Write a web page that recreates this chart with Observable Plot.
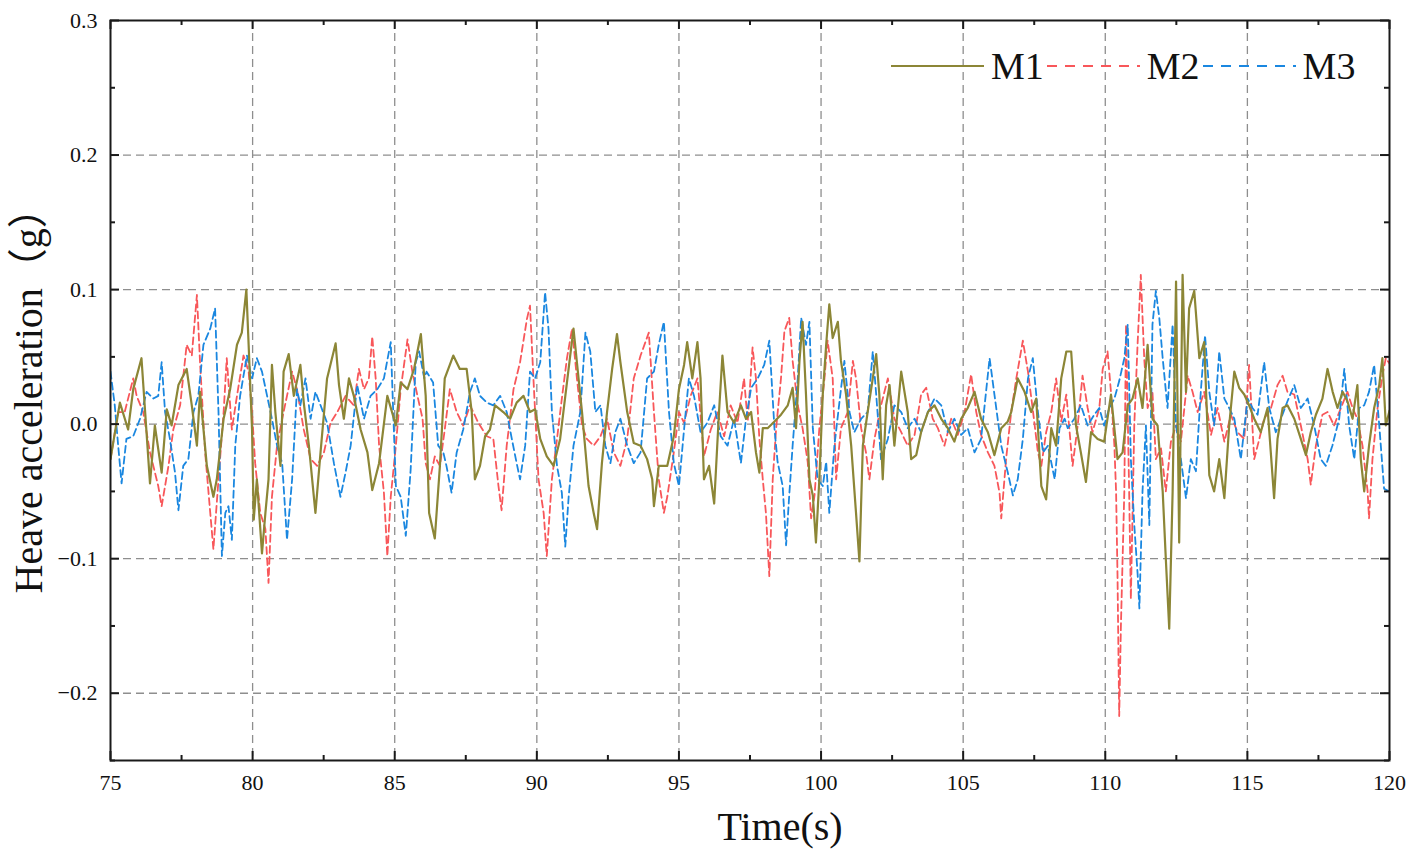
<!DOCTYPE html>
<html>
<head>
<meta charset="utf-8">
<script src="https://cdn.jsdelivr.net/npm/d3@7"></script>
<script src="https://cdn.jsdelivr.net/npm/@observablehq/plot@0.6"></script>
<style>
  html, body { margin: 0; padding: 0; background: #fff; }
  #wrap { position: relative; width: 1415px; height: 858px; }
  #legend { position: absolute; left: 891px; top: 44px; height: 44px; display: flex; align-items: center;
            font-family: 'Liberation Serif', 'Times New Roman', serif; font-size: 38px; color: #111; }
  .item { display: flex; align-items: center; }
  .item span { padding-left: 7px; padding-right: 3px; line-height: 44px; }
</style>
</head>
<body>
<div id="wrap">
  <div id="chart"></div>
  <div id="legend"></div>
</div>
<script>
// ---- axes ----
const xDomain = [75, 120];
const yDomain = [-0.25, 0.3];
const xMajor = [75, 80, 85, 90, 95, 100, 105, 110, 115, 120];
const xMinor = [77.5, 82.5, 87.5, 92.5, 97.5, 102.5, 107.5, 112.5, 117.5];
const yMajor = [-0.2, -0.1, 0.0, 0.1, 0.2, 0.3];
const yMinor = [-0.25, -0.15, -0.05, 0.05, 0.15, 0.25];
const xGrid = [80, 85, 90, 95, 100, 105, 110, 115];
const yGrid = [-0.2, -0.1, 0.0, 0.1, 0.2];

// ---- series names / colours ----
const seriesNames = ["M1", "M2", "M3"];
const seriesColors = ["#8c8636", "#f8575a", "#1a87e0"];

// ---- series: [time (s), heave acceleration (g)] ----
const m1 = [[75.00,-0.026],[75.33,0.016],[75.62,-0.004],[75.80,0.026],[76.09,0.049],[76.39,-0.044],[76.56,-0.001],[76.80,-0.036],[76.98,0.011],[77.15,-0.001],[77.39,0.029],[77.68,0.041],[77.86,0.014],[78.04,-0.016],[78.15,0.024],[78.39,-0.031],[78.62,-0.054],[78.74,-0.041],[78.98,0.004],[79.21,0.026],[79.45,0.059],[79.62,0.068],[79.78,0.100],[79.86,0.059],[79.98,-0.004],[80.04,-0.071],[80.15,-0.041],[80.33,-0.096],[80.45,-0.066],[80.56,-0.041],[80.68,0.044],[80.80,0.009],[80.98,-0.031],[81.09,0.039],[81.27,0.052],[81.45,0.021],[81.68,0.044],[81.80,0.016],[81.98,-0.016],[82.21,-0.066],[82.39,-0.021],[82.62,0.034],[82.92,0.060],[83.04,0.029],[83.21,0.004],[83.39,0.034],[83.56,0.021],[83.80,-0.004],[84.04,-0.021],[84.21,-0.049],[84.45,-0.029],[84.74,0.021],[85.04,-0.001],[85.21,0.031],[85.45,0.026],[85.68,0.041],[85.92,0.067],[86.09,0.021],[86.21,-0.066],[86.41,-0.085],[86.59,-0.031],[86.76,0.034],[87.06,0.051],[87.29,0.041],[87.53,0.041],[87.71,0.009],[87.82,-0.041],[88.00,-0.031],[88.18,-0.009],[88.35,-0.004],[88.53,0.014],[88.82,0.009],[89.06,0.004],[89.29,0.016],[89.53,0.021],[89.76,0.009],[89.94,0.011],[90.12,-0.011],[90.35,-0.024],[90.59,-0.031],[90.82,-0.011],[91.06,0.031],[91.29,0.071],[91.41,0.046],[91.59,0.009],[91.82,-0.046],[92.00,-0.066],[92.12,-0.078],[92.29,-0.029],[92.47,0.009],[92.65,0.041],[92.82,0.067],[92.94,0.046],[93.18,0.009],[93.41,-0.014],[93.65,-0.016],[93.88,-0.026],[94.06,-0.041],[94.12,-0.061],[94.29,-0.031],[94.59,-0.031],[94.82,-0.009],[95.00,0.026],[95.18,0.044],[95.29,0.061],[95.47,0.034],[95.65,0.061],[95.76,0.034],[95.88,-0.041],[96.06,-0.031],[96.24,-0.059],[96.41,0.009],[96.53,0.051],[96.71,0.009],[96.94,0.001],[97.18,0.014],[97.36,0.004],[97.54,0.009],[97.71,-0.021],[97.83,-0.036],[97.95,-0.003],[98.12,-0.003],[98.36,0.002],[98.59,0.007],[98.83,0.014],[99.00,0.027],[99.12,-0.003],[99.24,0.047],[99.35,0.076],[99.47,0.022],[99.59,-0.041],[99.71,-0.053],[99.82,-0.088],[99.94,-0.041],[100.06,0.022],[100.18,0.059],[100.29,0.089],[100.41,0.064],[100.59,0.076],[100.70,0.047],[100.88,0.022],[101.06,-0.016],[101.23,-0.066],[101.35,-0.102],[101.47,-0.016],[101.64,0.009],[101.82,0.034],[101.94,0.052],[102.05,0.022],[102.17,-0.041],[102.29,0.014],[102.41,0.029],[102.58,-0.016],[102.82,0.039],[103.05,0.009],[103.17,-0.026],[103.35,-0.023],[103.52,-0.006],[103.76,0.009],[103.99,0.014],[104.23,0.004],[104.46,-0.003],[104.69,-0.013],[104.93,0.004],[105.16,0.012],[105.40,0.024],[105.63,0.004],[105.87,-0.006],[106.10,-0.023],[106.34,-0.003],[106.57,0.002],[106.69,0.009],[106.92,0.034],[107.16,0.024],[107.39,0.009],[107.57,0.019],[107.75,-0.046],[107.92,-0.056],[108.10,-0.003],[108.27,-0.016],[108.45,0.034],[108.63,0.054],[108.80,0.054],[108.97,-0.001],[109.14,-0.021],[109.32,-0.043],[109.50,-0.006],[109.73,-0.011],[109.96,-0.013],[110.20,0.022],[110.43,-0.026],[110.61,-0.021],[110.79,0.014],[110.96,0.019],[111.14,0.034],[111.31,0.012],[111.49,0.059],[111.66,0.004],[111.84,-0.001],[112.02,-0.050],[112.13,-0.100],[112.25,-0.152],[112.37,-0.050],[112.49,0.106],[112.60,-0.088],[112.72,0.111],[112.84,0.024],[112.95,0.086],[113.13,0.099],[113.31,0.049],[113.48,0.061],[113.66,-0.038],[113.83,-0.050],[114.01,-0.026],[114.19,-0.055],[114.36,-0.001],[114.54,0.039],[114.71,0.027],[114.89,0.022],[115.06,0.014],[115.24,0.004],[115.47,-0.006],[115.71,0.012],[115.94,-0.055],[116.06,-0.011],[116.24,0.012],[116.41,0.014],[116.65,0.004],[116.88,-0.011],[117.06,-0.023],[117.23,-0.006],[117.41,0.007],[117.64,0.019],[117.82,0.041],[118.00,0.024],[118.17,0.012],[118.35,0.024],[118.52,0.017],[118.70,0.004],[118.87,0.029],[118.99,-0.026],[119.11,-0.050],[119.28,-0.016],[119.46,0.012],[119.64,0.029],[119.75,0.049],[119.87,-0.001],[120.00,0.010]];

const m2 = [[75.00,-0.026],[75.27,0.009],[75.50,0.009],[75.80,0.034],[75.92,0.021],[76.15,0.009],[76.39,-0.021],[76.68,-0.046],[76.80,-0.061],[77.04,-0.031],[77.21,-0.004],[77.45,0.014],[77.68,0.059],[77.86,0.051],[78.04,0.096],[78.15,0.046],[78.33,-0.021],[78.51,-0.066],[78.62,-0.093],[78.80,-0.041],[78.98,0.009],[79.09,0.049],[79.27,-0.004],[79.45,0.021],[79.68,0.051],[79.86,0.039],[79.98,0.009],[80.09,-0.029],[80.27,-0.066],[80.45,-0.078],[80.56,-0.118],[80.68,-0.054],[80.86,-0.016],[81.09,0.009],[81.39,0.039],[81.56,0.026],[81.80,-0.004],[82.04,-0.026],[82.27,-0.031],[82.51,-0.021],[82.74,0.001],[82.98,0.009],[83.27,0.021],[83.56,0.014],[83.74,0.041],[83.92,0.026],[84.09,0.034],[84.21,0.065],[84.33,0.034],[84.45,-0.016],[84.62,-0.051],[84.74,-0.098],[84.86,-0.054],[85.04,-0.016],[85.21,0.026],[85.45,0.063],[85.62,0.039],[85.80,0.021],[85.98,0.004],[86.09,-0.029],[86.24,-0.041],[86.41,-0.024],[86.59,-0.031],[86.76,-0.004],[86.94,0.026],[87.18,0.009],[87.41,-0.001],[87.65,0.014],[87.94,0.001],[88.24,-0.009],[88.47,-0.011],[88.65,-0.046],[88.76,-0.064],[88.94,-0.016],[89.18,0.026],[89.41,0.046],[89.65,0.078],[89.76,0.088],[89.88,0.034],[90.06,-0.041],[90.24,-0.066],[90.35,-0.098],[90.53,-0.041],[90.71,-0.011],[90.88,0.019],[91.06,0.049],[91.24,0.071],[91.41,0.034],[91.59,-0.001],[91.76,-0.011],[92.00,-0.016],[92.24,-0.009],[92.47,0.004],[92.71,-0.021],[92.94,-0.031],[93.18,-0.011],[93.41,0.034],[93.65,0.051],[93.94,0.068],[94.12,0.009],[94.29,-0.041],[94.47,-0.066],[94.59,-0.054],[94.82,-0.021],[95.00,0.009],[95.18,0.001],[95.41,0.021],[95.65,0.034],[95.88,-0.024],[96.12,-0.004],[96.35,0.009],[96.59,-0.009],[96.82,0.014],[97.06,0.001],[97.29,0.034],[97.42,0.002],[97.59,0.057],[97.71,0.034],[97.83,-0.011],[97.95,-0.041],[98.06,-0.066],[98.18,-0.113],[98.30,-0.041],[98.42,-0.003],[98.59,0.034],[98.71,0.069],[98.88,0.079],[99.00,0.047],[99.18,0.014],[99.35,-0.003],[99.53,-0.028],[99.65,-0.070],[99.77,-0.053],[99.94,-0.003],[100.12,0.034],[100.23,0.062],[100.41,0.034],[100.53,-0.041],[100.70,-0.003],[100.94,0.009],[101.12,0.047],[101.23,0.034],[101.41,-0.003],[101.58,-0.021],[101.70,-0.041],[101.88,-0.011],[102.11,0.014],[102.35,0.034],[102.58,0.004],[102.82,-0.006],[103.05,-0.016],[103.29,-0.008],[103.52,0.022],[103.70,0.027],[103.93,0.004],[104.11,-0.003],[104.34,-0.016],[104.58,0.004],[104.81,-0.008],[105.05,0.009],[105.28,0.037],[105.46,0.009],[105.63,-0.008],[105.87,-0.021],[106.10,-0.031],[106.28,-0.051],[106.34,-0.070],[106.51,-0.026],[106.69,0.009],[106.87,0.034],[107.10,0.062],[107.28,0.039],[107.46,0.009],[107.63,-0.021],[107.75,-0.031],[107.92,-0.006],[108.10,0.009],[108.27,0.034],[108.45,0.002],[108.63,0.022],[108.85,-0.031],[109.03,-0.001],[109.20,0.036],[109.38,0.012],[109.55,-0.006],[109.79,0.012],[109.91,0.041],[110.08,0.054],[110.20,0.024],[110.32,-0.016],[110.38,-0.050],[110.43,-0.112],[110.49,-0.217],[110.55,-0.150],[110.67,-0.050],[110.73,0.074],[110.84,-0.050],[110.90,-0.130],[111.02,-0.001],[111.14,0.061],[111.25,0.111],[111.37,0.049],[111.49,0.012],[111.66,0.024],[111.78,-0.026],[111.96,-0.018],[112.13,-0.050],[112.31,-0.013],[112.49,-0.001],[112.66,-0.013],[112.90,0.036],[113.07,0.024],[113.25,0.009],[113.48,0.024],[113.72,-0.008],[113.95,0.012],[114.19,-0.013],[114.42,0.007],[114.65,-0.006],[114.89,-0.011],[115.06,0.044],[115.24,-0.026],[115.42,-0.011],[115.59,0.004],[115.83,0.012],[116.06,0.029],[116.24,0.036],[116.41,0.024],[116.65,0.022],[116.88,-0.001],[117.12,-0.026],[117.23,-0.045],[117.41,-0.016],[117.64,0.007],[117.82,0.009],[118.05,-0.001],[118.29,0.012],[118.52,0.024],[118.70,0.012],[118.87,0.004],[119.05,-0.016],[119.23,-0.050],[119.28,-0.070],[119.40,-0.026],[119.58,0.012],[119.75,0.036],[119.87,0.049],[120.00,0.045]];

const m3 = [[75.00,0.039],[75.15,0.014],[75.27,-0.016],[75.39,-0.044],[75.56,-0.011],[75.80,-0.009],[76.04,0.004],[76.27,0.024],[76.51,0.019],[76.68,0.021],[76.80,0.046],[76.92,0.009],[77.09,-0.011],[77.27,-0.036],[77.39,-0.064],[77.56,-0.031],[77.74,-0.026],[77.92,0.009],[78.09,0.021],[78.27,0.059],[78.51,0.071],[78.68,0.086],[78.80,0.009],[78.92,-0.098],[79.04,-0.066],[79.15,-0.061],[79.27,-0.086],[79.39,-0.016],[79.56,0.021],[79.80,0.051],[79.98,0.034],[80.15,0.049],[80.33,0.039],[80.51,0.021],[80.68,0.004],[80.86,-0.016],[81.04,-0.029],[81.21,-0.086],[81.39,-0.041],[81.56,0.026],[81.68,0.014],[81.86,0.034],[82.04,0.004],[82.21,0.024],[82.39,0.014],[82.62,0.001],[82.86,-0.029],[83.09,-0.054],[83.27,-0.036],[83.45,-0.016],[83.68,0.029],[83.92,0.004],[84.15,0.021],[84.39,0.026],[84.62,0.034],[84.86,0.061],[85.04,-0.046],[85.21,-0.054],[85.39,-0.083],[85.56,-0.034],[85.74,0.046],[85.86,0.054],[86.04,0.034],[86.12,0.039],[86.35,0.031],[86.53,-0.016],[86.71,-0.021],[86.82,-0.031],[87.00,-0.051],[87.18,-0.021],[87.41,-0.004],[87.65,0.024],[87.82,0.034],[88.00,0.021],[88.24,0.016],[88.47,0.014],[88.71,0.021],[88.94,0.009],[89.12,-0.011],[89.29,-0.029],[89.41,-0.041],[89.59,-0.016],[89.76,0.039],[89.94,0.034],[90.12,0.046],[90.29,0.098],[90.41,0.071],[90.53,0.009],[90.71,-0.031],[90.88,-0.051],[91.00,-0.091],[91.12,-0.054],[91.29,-0.016],[91.53,0.009],[91.71,0.068],[91.88,0.054],[92.06,0.009],[92.24,0.014],[92.41,-0.016],[92.59,-0.029],[92.76,-0.006],[92.94,0.004],[93.18,-0.016],[93.41,-0.029],[93.65,-0.021],[93.88,0.034],[94.12,0.039],[94.29,0.059],[94.47,0.076],[94.65,0.009],[94.82,-0.029],[95.00,-0.046],[95.18,-0.004],[95.35,0.034],[95.53,0.021],[95.76,-0.006],[96.00,0.001],[96.24,0.014],[96.47,-0.009],[96.71,-0.016],[96.94,0.004],[97.18,-0.029],[97.36,0.004],[97.54,0.027],[97.77,0.034],[98.00,0.044],[98.18,0.062],[98.36,-0.003],[98.47,-0.028],[98.65,-0.046],[98.77,-0.090],[98.88,-0.053],[99.00,-0.016],[99.18,0.034],[99.30,0.079],[99.47,0.059],[99.59,0.076],[99.71,-0.003],[99.88,-0.041],[100.06,-0.046],[100.18,-0.028],[100.29,-0.066],[100.47,-0.016],[100.65,0.017],[100.82,0.047],[101.00,0.009],[101.17,-0.006],[101.41,0.004],[101.64,0.009],[101.82,0.054],[101.94,0.022],[102.11,-0.026],[102.35,-0.011],[102.58,0.014],[102.82,0.009],[103.05,-0.003],[103.29,0.004],[103.52,-0.006],[103.76,0.009],[103.99,0.019],[104.23,0.014],[104.46,-0.006],[104.69,0.004],[104.93,-0.008],[105.16,-0.003],[105.40,-0.021],[105.63,-0.011],[105.93,0.049],[106.10,0.022],[106.34,-0.016],[106.57,-0.036],[106.75,-0.053],[106.92,-0.041],[107.10,-0.011],[107.28,0.034],[107.45,0.049],[107.63,0.009],[107.81,-0.021],[107.98,-0.016],[108.22,-0.041],[108.39,-0.003],[108.57,0.004],[108.68,-0.003],[108.91,0.004],[109.14,0.014],[109.38,-0.001],[109.61,0.007],[109.79,0.012],[109.96,-0.001],[110.14,0.012],[110.32,0.019],[110.49,0.032],[110.67,0.049],[110.79,0.074],[110.90,-0.026],[111.02,-0.075],[111.14,-0.112],[111.20,-0.137],[111.31,-0.050],[111.43,-0.001],[111.55,-0.075],[111.66,0.074],[111.78,0.099],[111.90,0.079],[112.02,0.049],[112.19,0.012],[112.37,0.074],[112.49,-0.001],[112.66,-0.026],[112.84,-0.055],[113.01,-0.026],[113.19,-0.035],[113.36,0.024],[113.51,0.066],[113.66,0.024],[113.83,-0.001],[114.01,0.054],[114.19,0.019],[114.36,0.012],[114.54,0.004],[114.77,-0.026],[115.01,0.019],[115.18,0.012],[115.36,0.007],[115.59,0.046],[115.77,0.012],[116.00,-0.006],[116.18,0.004],[116.41,0.017],[116.65,0.029],[116.88,0.012],[117.12,0.019],[117.35,-0.001],[117.58,-0.026],[117.76,-0.031],[117.99,-0.016],[118.23,0.004],[118.41,0.041],[118.58,-0.001],[118.76,-0.026],[118.93,0.012],[119.11,0.014],[119.28,0.024],[119.46,0.044],[119.64,-0.001],[119.81,-0.048],[119.99,-0.050]];

// ---- layout ----
const W = 1415, H = 858;
const mL = 110, mR = 26, mT = 20, mB = 98;
const fw = W - mL - mR, fh = H - mT - mB;
const majorLen = 9, minorLen = 5;
const serif = "'Liberation Serif', 'Times New Roman', serif";
const gridStyle = {stroke: "#8e8e8e", strokeOpacity: 1, strokeWidth: 1.3, strokeDasharray: "8,5"};
const tickStyle = {stroke: "#1a1a1a", strokeWidth: 2};

const lineOpts = (i, extra) => Object.assign({
  x: d => d[0], y: d => d[1], stroke: seriesColors[i], clip: true, strokeLinejoin: "round"
}, extra);

const chart = Plot.plot({
  width: W, height: H,
  marginLeft: mL, marginRight: mR, marginTop: mT, marginBottom: mB,
  x: {domain: xDomain, axis: null},
  y: {domain: yDomain, axis: null},
  style: {fontFamily: serif, background: "white", color: "#111"},
  marks: [
    Plot.gridX(xGrid, gridStyle),
    Plot.gridY(yGrid, gridStyle),
    Plot.line(m2, lineOpts(1, {strokeWidth: 1.8, strokeDasharray: "7,4"})),
    Plot.line(m3, lineOpts(2, {strokeWidth: 1.8, strokeDasharray: "7,4"})),
    Plot.line(m1, lineOpts(0, {strokeWidth: 2.2})),
    // inward ticks on all four sides
    Plot.tickX(xMajor, {x: d => d, insetTop: fh - majorLen, ...tickStyle}),
    Plot.tickX(xMajor, {x: d => d, insetBottom: fh - majorLen, ...tickStyle}),
    Plot.tickX(xMinor, {x: d => d, insetTop: fh - minorLen, ...tickStyle}),
    Plot.tickX(xMinor, {x: d => d, insetBottom: fh - minorLen, ...tickStyle}),
    Plot.tickY(yMajor, {y: d => d, insetRight: fw - majorLen, ...tickStyle}),
    Plot.tickY(yMajor, {y: d => d, insetLeft: fw - majorLen, ...tickStyle}),
    Plot.tickY(yMinor, {y: d => d, insetRight: fw - minorLen, ...tickStyle}),
    Plot.tickY(yMinor, {y: d => d, insetLeft: fw - minorLen, ...tickStyle}),
    Plot.frame({stroke: "#1a1a1a", strokeWidth: 2}),
    Plot.axisX(xMajor, {anchor: "bottom", tickSize: 0, tickPadding: 14, fontSize: 22, tickFormat: d => String(d), label: null}),
    Plot.axisY(yMajor, {anchor: "left", tickSize: 0, tickPadding: 13, fontSize: 22, tickFormat: d3.format(".1f"), label: null}),
    Plot.text(["Time(s)"], {frameAnchor: "bottom", textAnchor: "middle", lineAnchor: "middle",
      dy: 67, dx: 30, fontSize: 40, fill: "#111"}),
    Plot.text(["Heave acceleration（g）"], {frameAnchor: "left", textAnchor: "start", lineAnchor: "middle",
      rotate: -90, dx: -81, dy: 203, fontSize: 40, fill: "#111",
      fontFamily: "'Liberation Serif', 'Noto Sans CJK SC', serif"})
  ]
});
document.getElementById("chart").appendChild(chart);

// ---- legend ----
const legend = d3.select("#legend");
seriesNames.forEach((name, i) => {
  const item = legend.append("div").attr("class", "item");
  const svg = item.append("svg").attr("width", 93).attr("height", 10);
  svg.append("line").attr("x1", 0).attr("x2", 93).attr("y1", 5).attr("y2", 5)
    .attr("stroke", seriesColors[i]).attr("stroke-width", 2.2)
    .attr("stroke-dasharray", i === 0 ? null : "10,8");
  item.append("span").text(name);
});
</script>
</body>
</html>
